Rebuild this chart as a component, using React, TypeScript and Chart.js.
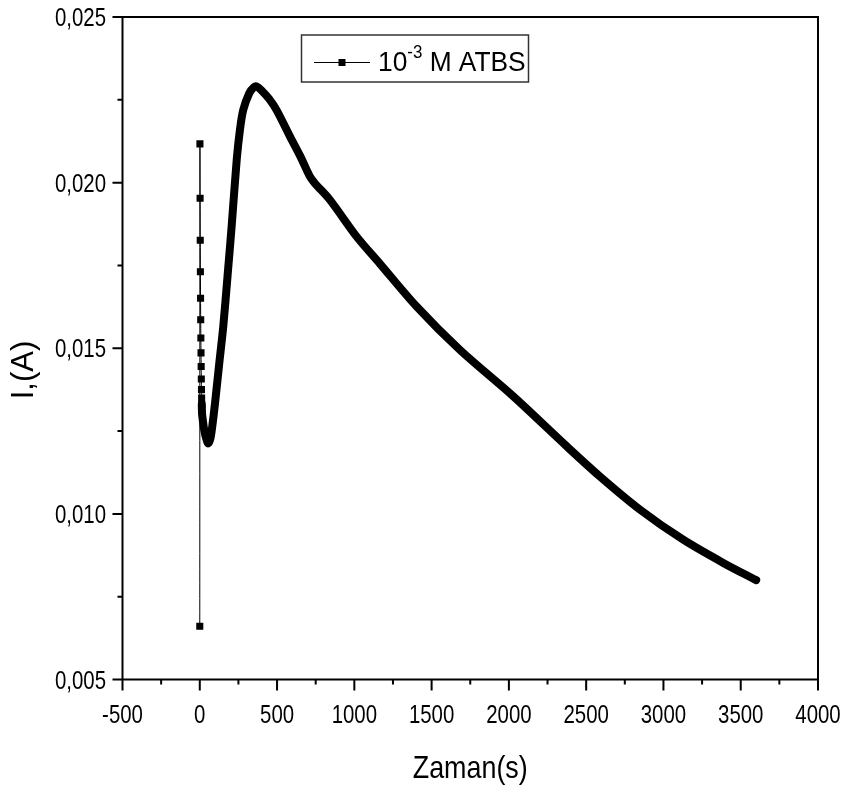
import React, { useEffect, useRef } from "react";
import { Chart, registerables } from "chart.js";

Chart.register(...registerables);

// Time (s) and current (A)
const timeS: number[] = [
  0, 1, 2, 3, 4, 5, 6, 7, 8, 9, 10, 11, 12, 13, 14,
  15, 30, 45, 55, 70, 85, 100, 125, 152, 180, 206, 239, 260, 281, 320, 350,
  370, 400, 450, 497, 584, 650, 713, 745, 842, 1015, 1166, 1403, 1683, 2028,
  2374, 2589, 2848, 3128, 3387, 3600,
];
const currentA: number[] = [
  0.00661, 0.02117, 0.01953, 0.01826, 0.01731, 0.01651, 0.01586, 0.01531,
  0.01486, 0.01445, 0.01407, 0.01375, 0.0135, 0.0133, 0.0131,
  0.013, 0.0125, 0.01222, 0.01213, 0.0123, 0.0128, 0.0134, 0.0145, 0.01566,
  0.0172, 0.01867, 0.02069, 0.0216, 0.02219, 0.0227, 0.02288,
  0.0229, 0.02278, 0.02252, 0.02219, 0.02139, 0.0208, 0.02018, 0.01998,
  0.01948, 0.01837, 0.01755, 0.01626, 0.01495, 0.01355,
  0.01204, 0.01113, 0.01013, 0.00922, 0.00852, 0.008,
];
// index from which individual markers merge into a thick trace
const THICK_START = 14;

const xTicks: number[] = [-500, 0, 500, 1000, 1500, 2000, 2500, 3000, 3500, 4000];
const yTicks: number[] = [0.005, 0.01, 0.015, 0.02, 0.025];

const xTitle = "Zaman(s)";
const yTitle = "I,(A)";
const legendBase = "10";
const legendExp = "-3";
const legendRest = " M ATBS";

const FONT = '"Liberation Sans", Arial, sans-serif';

function narrowText(ctx: any, text: string, x: number, y: number, size: number, sx: number, align: string) {
  ctx.save();
  ctx.translate(x, y);
  ctx.scale(sx, 1);
  ctx.font = `${size}px ${FONT}`;
  ctx.textAlign = align;
  ctx.textBaseline = "alphabetic";
  ctx.fillText(text, 0, 0);
  ctx.restore();
}

export default function App() {
  const canvasRef = useRef<HTMLCanvasElement | null>(null);

  useEffect(() => {
    const canvas = canvasRef.current;
    if (!canvas) return;

    const framePlugin = {
      id: "framePlugin",
      afterDraw(chart: any) {
        const { ctx, chartArea } = chart;
        const xs = chart.scales.x;
        const ys = chart.scales.y;
        ctx.save();
        ctx.strokeStyle = "#000";
        ctx.fillStyle = "#000";
        ctx.lineWidth = 2;
        ctx.strokeRect(chartArea.left, chartArea.top, chartArea.right - chartArea.left, chartArea.bottom - chartArea.top);

        // ticks (major + minor), outward
        ctx.beginPath();
        for (let i = 0; i < xTicks.length; i++) {
          const px = xs.getPixelForValue(xTicks[i]);
          ctx.moveTo(px, chartArea.bottom);
          ctx.lineTo(px, chartArea.bottom + 11);
          if (i < xTicks.length - 1) {
            const pm = xs.getPixelForValue((xTicks[i] + xTicks[i + 1]) / 2);
            ctx.moveTo(pm, chartArea.bottom);
            ctx.lineTo(pm, chartArea.bottom + 5);
          }
        }
        for (let i = 0; i < yTicks.length; i++) {
          const py = ys.getPixelForValue(yTicks[i]);
          ctx.moveTo(chartArea.left, py);
          ctx.lineTo(chartArea.left - 10, py);
          if (i < yTicks.length - 1) {
            const pm = ys.getPixelForValue((yTicks[i] + yTicks[i + 1]) / 2);
            ctx.moveTo(chartArea.left, pm);
            ctx.lineTo(chartArea.left - 5, pm);
          }
        }
        ctx.stroke();

        // tick labels
        for (const v of xTicks) {
          narrowText(ctx, String(v), xs.getPixelForValue(v), chartArea.bottom + 43.5, 25.5, 0.8, "center");
        }
        for (const v of yTicks) {
          narrowText(ctx, v.toFixed(3).replace(".", ","), chartArea.left - 16.5, ys.getPixelForValue(v) + 9, 25.5, 0.8, "right");
        }

        // axis titles
        narrowText(ctx, xTitle, (chartArea.left + chartArea.right) / 2, 778, 32, 0.84, "center");
        ctx.save();
        ctx.translate(33, 370);
        ctx.rotate(-Math.PI / 2);
        narrowText(ctx, yTitle, 0, 0, 31, 1.0, "center");
        ctx.restore();

        // legend
        const bx = 301.5, by = 35, bw = 227, bh = 47;
        ctx.lineWidth = 1.5;
        ctx.strokeStyle = "#333";
        ctx.strokeRect(bx, by, bw, bh);
        const ly = 62.5;
        ctx.strokeStyle = "#000";
        ctx.lineWidth = 1;
        ctx.beginPath();
        ctx.moveTo(314, ly);
        ctx.lineTo(370, ly);
        ctx.stroke();
        ctx.fillRect(342 - 3.5, ly - 3.5, 7, 7);
        const sx = 0.94;
        let tx = 378;
        narrowText(ctx, legendBase, tx, 70.5, 28, sx, "left");
        ctx.font = `28px ${FONT}`;
        tx += ctx.measureText(legendBase).width * sx;
        narrowText(ctx, legendExp, tx, 58, 18, sx, "left");
        ctx.font = `18px ${FONT}`;
        tx += ctx.measureText(legendExp).width * sx;
        narrowText(ctx, legendRest, tx, 70.5, 28, sx, "left");
        ctx.restore();
      },
    };

    const chart = new Chart(canvas, {
      type: "line",
      data: {
        datasets: [
          {
            label: legendBase + legendExp + legendRest,
            data: timeS.map((t, i) => ({ x: t, y: currentA[i] })),
            borderColor: "#000",
            backgroundColor: "#000",
            borderWidth: 1,
            pointStyle: "rect",
            pointRadius: (ctx: any) => (ctx.dataIndex < THICK_START ? 5 : 0),
            pointBorderWidth: 0,
            borderJoinStyle: "round",
            borderCapStyle: "round",
            tension: 0.3,
            segment: {
              borderWidth: (ctx: any) => (ctx.p0DataIndex >= THICK_START - 1 ? 8 : 1),
            },
          } as any,
        ],
      },
      options: {
        animation: false,
        responsive: false,
        maintainAspectRatio: false,
        layout: { padding: { left: 0, right: 29, top: 17, bottom: 0 } },
        plugins: {
          legend: { display: false },
          tooltip: { enabled: false },
        },
        scales: {
          x: {
            type: "linear",
            min: -500,
            max: 4000,
            afterBuildTicks: (scale: any) => {
              scale.ticks = xTicks.map((v) => ({ value: v }));
            },
            afterFit: (scale: any) => {
              scale.height = 112.5;
            },
            grid: { display: false },
            border: { display: false },
            ticks: { display: false },
          },
          y: {
            type: "linear",
            min: 0.005,
            max: 0.025,
            afterBuildTicks: (scale: any) => {
              scale.ticks = yTicks.map((v) => ({ value: v }));
            },
            afterFit: (scale: any) => {
              scale.width = 122.5;
            },
            grid: { display: false },
            border: { display: false },
            ticks: { display: false },
          },
        },
      } as any,
      plugins: [framePlugin],
    });

    return () => chart.destroy();
  }, []);

  return (
    <div style={{ position: "fixed", left: 0, top: 0, width: 847, height: 792, background: "#fff" }}>
      <canvas ref={canvasRef} width={847} height={792} style={{ width: 847, height: 792, display: "block" }} />
    </div>
  );
}
